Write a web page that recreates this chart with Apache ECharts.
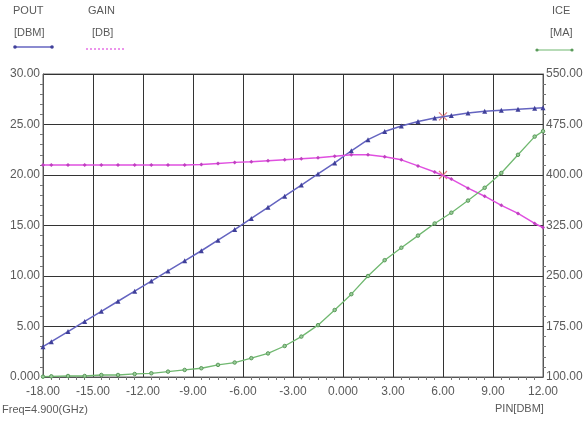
<!DOCTYPE html>
<html>
<head>
<meta charset="utf-8">
<script src="https://cdn.jsdelivr.net/npm/echarts@6/dist/echarts.min.js"></script>
<style>
html,body{margin:0;padding:0;background:#fff;}
#c{width:587px;height:427px;}
</style>
</head>
<body>
<div id="c"></div>
<script>
// Input power sweep (dBm)
const pin = [-18,-17.5,-16.5,-15.5,-14.5,-13.5,-12.5,-11.5,-10.5,-9.5,-8.5,-7.5,-6.5,-5.5,-4.5,-3.5,-2.5,-1.5,-0.5,0.5,1.5,2.5,3.5,4.5,5.5,6.5,7.5,8.5,9.5,10.5,11.5,12];
// POUT [DBM]
const pout = [3.0,3.5,4.5,5.5,6.5,7.5,8.5,9.5,10.5,11.5,12.5,13.55,14.6,15.7,16.8,17.9,19.0,20.1,21.2,22.4,23.5,24.3,24.85,25.3,25.65,25.9,26.15,26.3,26.4,26.5,26.6,26.65];
// GAIN [DB]
const gain = [21.0,21.0,21.0,21.0,21.0,21.0,21.0,21.0,21.0,21.0,21.05,21.15,21.25,21.3,21.4,21.5,21.6,21.7,21.85,22.0,22.0,21.8,21.5,20.9,20.3,19.6,18.7,17.9,17.0,16.2,15.2,14.8];
// ICE [MA]
const ice = [100.5,101,101.5,101.5,103,103,104.5,105.5,108,110.5,113,118,121.5,128,135,146,160,177,199.5,223,250,273.5,292,310,328,344,362,381,403,430,457,465];
// Marker (cursor) readings at PIN = 6
const cursorPin = [6];
const cursorPout = [25.8];
const cursorGain = [20.0];

const fmt = v => (v === 0 ? '0.000' : v.toFixed(2));
const FONT = 'Liberation Sans, Arial, sans-serif';
const TXT = '#5a5a5a';

const chart = echarts.init(document.getElementById('c'));
const zip = (xs, ys) => xs.map((x, i) => [x, ys[i]]);

chart.setOption({
  animation: false,
  backgroundColor: '#fff',
  grid: {left: 43, right: 44, top: 74, bottom: 50, show: true, borderColor: '#666', borderWidth: 1},
  xAxis: {
    type: 'value', min: -18, max: 12, interval: 3,
    axisLine: {show: true, onZero: false, lineStyle: {color: '#555'}},
    axisTick: {show: false},
    minorTick: {show: true, splitNumber: 6, length: 3, lineStyle: {color: '#777'}},
    splitLine: {show: true, lineStyle: {color: '#333', width: 1}},
    axisLabel: {formatter: fmt, color: TXT, fontFamily: FONT, fontSize: 12, margin: 9}
  },
  yAxis: [{
    type: 'value', min: 0, max: 30, interval: 5,
    axisLine: {show: true, onZero: false, lineStyle: {color: '#555'}},
    axisTick: {show: false},
    minorTick: {show: true, splitNumber: 5, length: 3, lineStyle: {color: '#777'}},
    splitLine: {show: true, lineStyle: {color: '#333', width: 1}},
    axisLabel: {formatter: fmt, color: TXT, fontFamily: FONT, fontSize: 12, margin: 3}
  }, {
    type: 'value', min: 100, max: 550, interval: 75, position: 'right',
    axisLine: {show: true, onZero: false, lineStyle: {color: '#555'}},
    axisTick: {show: false},
    minorTick: {show: true, splitNumber: 5, length: 3, lineStyle: {color: '#777'}},
    splitLine: {show: false},
    axisLabel: {formatter: fmt, color: TXT, fontFamily: FONT, fontSize: 12, margin: 3}
  }],
  graphic: [
    {type: 'text', left: 13, top: 5, style: {text: 'POUT', fill: TXT, font: '11px ' + FONT}},
    {type: 'text', left: 14, top: 27, style: {text: '[DBM]', fill: TXT, font: '11px ' + FONT}},
    {type: 'line', shape: {x1: 15, y1: 47, x2: 52, y2: 47}, style: {stroke: '#6464c0', lineWidth: 1.5}},
    {type: 'circle', shape: {cx: 15, cy: 47, r: 1.8}, style: {fill: '#40409a'}},
    {type: 'circle', shape: {cx: 52, cy: 47, r: 1.8}, style: {fill: '#40409a'}},
    {type: 'text', left: 88, top: 5, style: {text: 'GAIN', fill: TXT, font: '11px ' + FONT}},
    {type: 'text', left: 92, top: 27, style: {text: '[DB]', fill: TXT, font: '11px ' + FONT}},
    {type: 'line', shape: {x1: 86, y1: 49, x2: 125, y2: 49}, style: {stroke: '#e050e0', lineWidth: 1.2, lineDash: [2, 2]}},
    {type: 'text', left: 552, top: 5, style: {text: 'ICE', fill: TXT, font: '11px ' + FONT}},
    {type: 'text', left: 550, top: 27, style: {text: '[MA]', fill: TXT, font: '11px ' + FONT}},
    {type: 'line', shape: {x1: 537, y1: 50, x2: 572, y2: 50}, style: {stroke: '#70b870', lineWidth: 1.2}},
    {type: 'circle', shape: {cx: 537, cy: 50, r: 1.6}, style: {fill: '#5a9a5a'}},
    {type: 'circle', shape: {cx: 572, cy: 50, r: 1.6}, style: {fill: '#5a9a5a'}},
    {type: 'text', left: 2, top: 404, style: {text: 'Freq=4.900(GHz)', fill: TXT, font: '11px ' + FONT}},
    {type: 'text', left: 495, top: 403, style: {text: 'PIN[DBM]', fill: TXT, font: '11px ' + FONT}}
  ],
  series: [
    {
      name: 'POUT', type: 'line', data: zip(pin, pout), yAxisIndex: 0,
      symbol: 'triangle', symbolSize: 5, showAllSymbol: true,
      lineStyle: {color: '#6464c0', width: 1.5},
      itemStyle: {color: '#40409a'}
    },
    {
      name: 'GAIN', type: 'line', data: zip(pin, gain), yAxisIndex: 0,
      symbol: 'diamond', symbolSize: 4, showAllSymbol: true,
      lineStyle: {color: '#e050e0', width: 1.5},
      itemStyle: {color: '#c040c0'}
    },
    {
      name: 'ICE', type: 'line', data: zip(pin, ice), yAxisIndex: 1,
      symbol: 'circle', symbolSize: 3.5, showAllSymbol: true,
      lineStyle: {color: '#70b870', width: 1.3},
      itemStyle: {color: '#9acc9a', borderColor: '#5a9a5a', borderWidth: 1}
    },
    {
      name: 'cursor', type: 'scatter', yAxisIndex: 0,
      data: zip(cursorPin, cursorPout).concat(zip(cursorPin, cursorGain)),
      symbol: 'path://M0,0L10,10M10,0L0,10', symbolSize: 8,
      itemStyle: {color: 'none', borderColor: '#e06060', borderWidth: 1.2}
    }
  ]
});
</script>
</body>
</html>
